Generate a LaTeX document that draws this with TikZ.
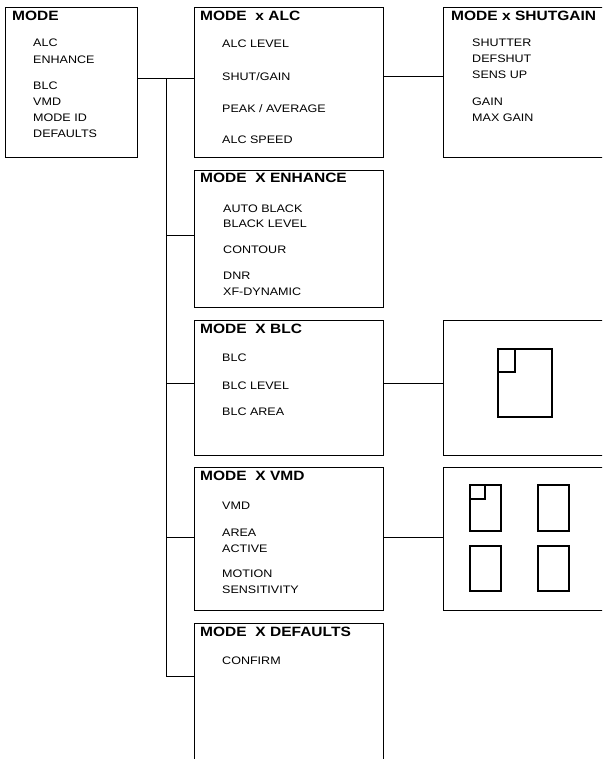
\documentclass[tikz,border=0pt]{standalone}
\usepackage{fontspec}
\setmainfont{Liberation Sans}[FakeStretch=1.15]
\usetikzlibrary{positioning}

\begin{document}
\begin{tikzpicture}[
  x=1pt,y=-1pt,
  menubox/.style={draw,line width=1pt,anchor=north west,inner sep=0pt,minimum width=189pt},
  ttl/.style={anchor=base west,inner sep=0pt,font=\fontsize{13.5}{15}\selectfont\bfseries},
  item/.style={anchor=base west,inner sep=0pt,font=\fontsize{10.9}{13}\selectfont},
  link/.style={line width=1pt},
  icon/.style={line width=2pt}
]
  \clip (0,0) rectangle (602,759);

  % menu boxes
  \node[menubox,minimum width=132pt,minimum height=150pt] (mode) at (5,7) {};
  \node[menubox,minimum height=150pt] (alc) at (194,7) {};
  \node[menubox,minimum width=175pt,minimum height=150pt] (shut) at (443,7) {};
  \node[menubox,minimum height=137pt] (enh) at (194,170) {};
  \node[menubox,minimum height=135pt] (blc) at (194,320) {};
  \node[menubox,minimum width=175pt,minimum height=135pt] (blcpic) at (443,320) {};
  \node[menubox,minimum height=143pt] (vmd) at (194,467) {};
  \node[menubox,minimum width=175pt,minimum height=143pt] (vmdpic) at (443,467) {};
  \node[menubox,minimum height=160pt] (def) at (194,623) {};

  % texts
  \node[ttl] (modet) at (12,21) {MODE};
  \node[item] at (33,47) {ALC};
  \node[item] at (33,64) {ENHANCE};
  \node[item] at (33,90) {BLC};
  \node[item] at (33,106) {VMD};
  \node[item] at (33,122) {MODE ID};
  \node[item] at (33,138) {DEFAULTS};

  \node[ttl] (alct) at (200,21) {MODE\ \ x ALC};
  \node[item] at (222,48) {ALC LEVEL};
  \node[item] at (222,81) {SHUT/GAIN};
  \node[item] at (222,113) {PEAK / AVERAGE};
  \node[item] at (222,144) {ALC SPEED};

  \node[ttl] (shutt) at (451,21) {MODE x SHUTGAIN};
  \node[item] at (472,47) {SHUTTER};
  \node[item] at (472,63) {DEFSHUT};
  \node[item] at (472,79) {SENS UP};
  \node[item] at (472,106) {GAIN};
  \node[item] at (472,122) {MAX GAIN};

  \node[ttl] (enht) at (200,183) {MODE\ \ X ENHANCE};
  \node[item] at (223,212) {AUTO BLACK};
  \node[item] at (223,227) {BLACK LEVEL};
  \node[item] at (223,253) {CONTOUR};
  \node[item] at (223,279) {DNR};
  \node[item] at (223,295) {XF-DYNAMIC};

  \node[ttl] (blct) at (200,333) {MODE\ \ X BLC};
  \node[item] at (222,361) {BLC};
  \node[item] at (222,389) {BLC LEVEL};
  \node[item] at (222,415) {BLC AREA};

  \node[ttl] (vmdt) at (200,480) {MODE\ \ X VMD};
  \node[item] at (222,509) {VMD};
  \node[item] at (222,536) {AREA};
  \node[item] at (222,552) {ACTIVE};
  \node[item] at (222,577) {MOTION};
  \node[item] at (222,593) {SENSITIVITY};

  \node[ttl] (deft) at (200,636) {MODE\ \ X DEFAULTS};
  \node[item] at (222,664) {CONFIRM};

  % junctions
  \coordinate (j0) at (166,79);
  \coordinate (j1) at (166,235);
  \coordinate (j2) at (166,383);
  \coordinate (j3) at (166,537);
  \coordinate (jd) at (166,676);
  \coordinate (s0) at (413,77);

  % connectors
  \draw[link] (mode.east |- j0) -- (alc.west |- j0);
  \draw[link] (alc.east |- s0) -- (shut.west |- s0);
  \draw[link] (j0) -- (jd);
  \draw[link] (j1) -- (enh.west |- j1);
  \draw[link] (j2) -- (blc.west |- j2);
  \draw[link] (blc.east |- j2) -- (blcpic.west |- j2);
  \draw[link] (j3) -- (vmd.west |- j3);
  \draw[link] (vmd.east |- j3) -- (vmdpic.west |- j3);
  \draw[link] (jd) -- (def.west |- jd);

  % area pictures
  \draw[icon] (498,349) rectangle (552,417);
  \draw[icon] (498,349) rectangle (515,372);
  \draw[icon] (470,485) rectangle (501,531);
  \draw[icon] (470,485) rectangle (485,499);
  \draw[icon] (538,485) rectangle (569,531);
  \draw[icon] (470,546) rectangle (501,591);
  \draw[icon] (538,546) rectangle (569,591);
\end{tikzpicture}
\end{document}
